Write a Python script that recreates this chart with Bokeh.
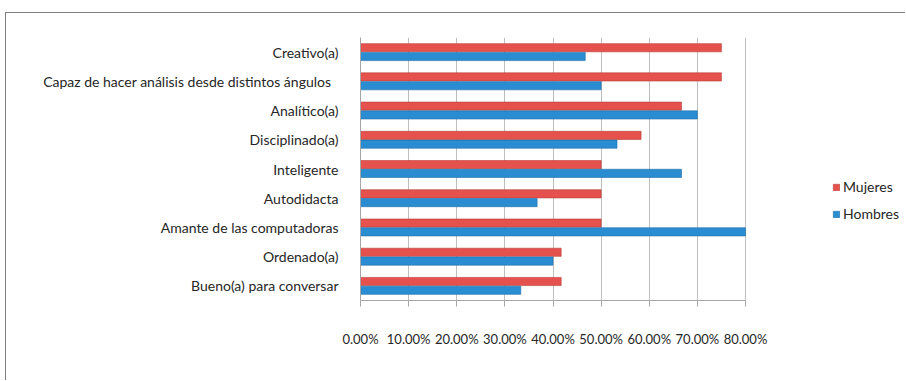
from bokeh.plotting import figure
from bokeh.models import ColumnDataSource, FactorRange, FixedTicker, Legend, LegendItem
from bokeh.transform import dodge
from bokeh.embed import file_html
from bokeh.resources import INLINE

categories = ["Creativo(a)", "Capaz de hacer análisis  desde distintos  ángulos", "Analítico(a)",
              "Disciplinado(a)", "Inteligente", "Autodidacta", "Amante de las computadoras",
              "Ordenado(a)", "Bueno(a) para conversar"]
mujeres = [75.0, 75.0, 66.7, 58.3, 50.0, 50.0, 50.0, 41.7, 41.7]
hombres = [46.7, 50.0, 70.0, 53.3, 66.7, 36.7, 80.0, 40.0, 33.3]
tick_values = [0, 10, 20, 30, 40, 50, 60, 70, 80]
tick_labels = ["0.00%", "10.00%", "20.00%", "30.00%", "40.00%", "50.00%", "60.00%", "70.00%", "80.00%"]

FONT = "Lato"
RED = "#e5524d"
BLUE = "#2a8dd2"

src = ColumnDataSource(dict(cat=categories, m=mujeres, h=hombres))

# frame spans 545 px; 80% sits at ~385 px from the left edge of the frame
p = figure(y_range=FactorRange(*reversed(categories)), x_range=(0, 545 * 80 / 385),
           width=900, height=368, output_backend="svg", toolbar_location=None,
           min_border_left=354, min_border_right=1, min_border_top=24, min_border_bottom=81,
           styles={"margin-left": "5px", "margin-top": "12px",
                   "border-left": "1px solid #7f7f7f", "border-top": "1px solid #7f7f7f"})
p.outline_line_color = None

rm = p.hbar(y=dodge("cat", 0.15, range=p.y_range), right="m", left=0, height=0.28, source=src,
            fill_color=RED, line_color="#bb3c37", line_width=0.6)
rh = p.hbar(y=dodge("cat", -0.15, range=p.y_range), right="h", left=0, height=0.28, source=src,
            fill_color=BLUE, line_color="#1d6ea8", line_width=0.6)

p.xaxis.ticker = FixedTicker(ticks=tick_values)
p.xaxis.bounds = (0, 80)
p.xaxis.major_label_overrides = {v: l for v, l in zip(tick_values, tick_labels)}
p.xaxis.axis_line_color = "#a6a6a6"
p.xaxis.major_tick_line_color = "#a6a6a6"
p.xaxis.major_tick_out = 6
p.xaxis.major_tick_in = 0
p.xaxis.minor_tick_line_color = None
p.xaxis.major_label_standoff = 24
p.xaxis.major_label_text_font = FONT
p.xaxis.major_label_text_font_size = "13px"
p.xaxis.major_label_text_color = "#262626"

p.yaxis.axis_line_color = "#a6a6a6"
p.yaxis.major_tick_line_color = None
p.yaxis.minor_tick_line_color = None
p.yaxis.major_label_standoff = 16
p.yaxis.major_label_text_font = FONT
p.yaxis.major_label_text_font_size = "14px"
p.yaxis.major_label_text_color = "#262626"

p.xgrid.grid_line_color = "#bfbfbf"
p.ygrid.grid_line_color = None

legend = Legend(items=[LegendItem(label="Mujeres", renderers=[rm]),
                       LegendItem(label="Hombres", renderers=[rh])],
                location=(472, 78), border_line_color=None, background_fill_alpha=0,
                label_text_font=FONT, label_text_font_size="14px", label_text_color="#262626",
                glyph_width=8, glyph_height=8, spacing=10, padding=0, margin=0,
                label_standoff=3)
p.add_layout(legend)

open("out.html", "w").write(file_html(p, INLINE))
